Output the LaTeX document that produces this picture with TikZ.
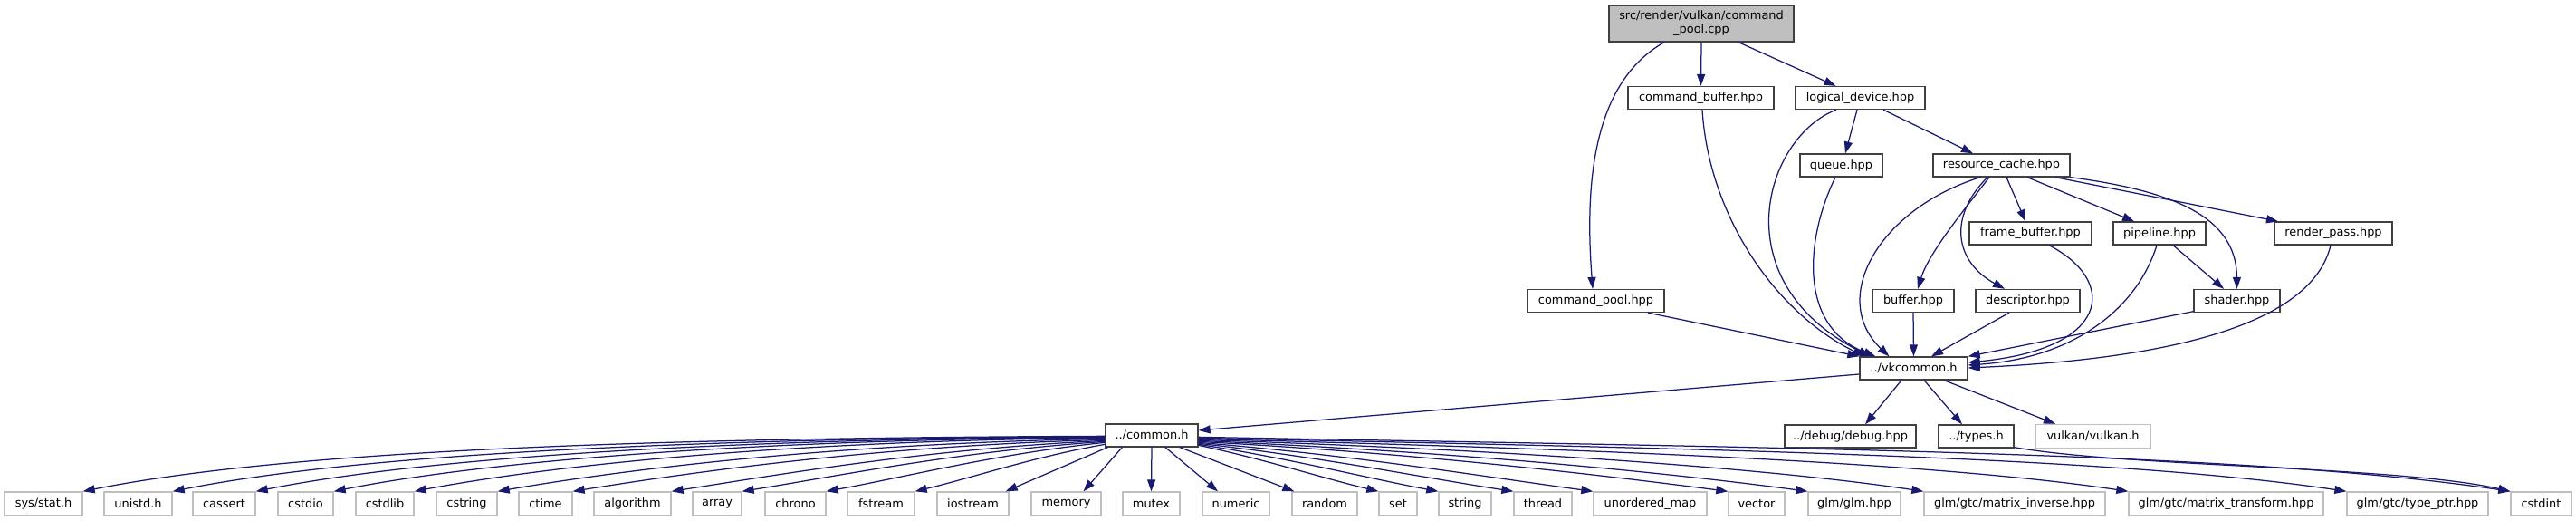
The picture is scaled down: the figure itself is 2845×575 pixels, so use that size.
\documentclass[tikz,border=0pt]{standalone}
\usepackage{fontspec}
\setmainfont{DejaVu Sans}
\usetikzlibrary{arrows.meta,calc}
\definecolor{mblue}{HTML}{191970}
\definecolor{gtf}{HTML}{404040}
\definecolor{gsf}{HTML}{BFBFBF}
\begin{document}
\begin{tikzpicture}[x=1pt,y=-1pt,
  nd/.style={draw=gtf, fill=white, line width=1.33pt, inner sep=0pt, minimum height=25pt,
    font=\fontsize{12.9}{15}\selectfont},
  ext/.style={nd, draw=gsf, minimum height=26pt},
  edge/.style={draw=mblue, line width=1.25pt, -{Triangle[length=13pt,width=9pt]}}]
\useasboundingbox[fill=white] (0,0) rectangle (2845,575);
% upper nodes
\node[nd, fill=gsf, minimum width=204pt, minimum height=40pt, align=center] (root) at (1879,26) {src/render/vulkan/command\\\_pool.cpp};
\node[nd, minimum width=161pt] (cbuf) at (1878.5,108) {command\_buffer.hpp};
\node[nd, minimum width=143pt] (ldev) at (2054.5,108) {logical\_device.hpp};
\node[nd, minimum width=91pt] (queue) at (2033.5,182.5) {queue.hpp};
\node[nd, minimum width=151pt] (rc) at (2210.5,182.5) {resource\_cache.hpp};
\node[nd, minimum width=135pt] (fb) at (2242.5,257.5) {frame\_buffer.hpp};
\node[nd, minimum width=102pt] (pipe) at (2385,257.5) {pipeline.hpp};
\node[nd, minimum width=130pt] (rp) at (2577,257.5) {render\_pass.hpp};
\node[nd, minimum width=151pt] (cpool) at (1762.5,332) {command\_pool.hpp};
\node[nd, minimum width=90pt] (buf) at (2113,332) {buffer.hpp};
\node[nd, minimum width=115pt] (desc) at (2239.5,332) {descriptor.hpp};
\node[nd, minimum width=95pt] (shader) at (2470.5,332) {shader.hpp};
\node[nd, minimum width=119pt] (vk) at (2113.5,406.5) {../vkcommon.h};
\node[nd, minimum width=102pt] (common) at (1272,480.5) {../common.h};
\node[nd, minimum width=145pt] (debug) at (2043.5,481.5) {../debug/debug.hpp};
\node[nd, minimum width=83pt] (types) at (2182.5,481.5) {../types.h};
\node[ext, minimum width=127pt] (vulkan) at (2311.5,481.5) {vulkan/vulkan.h};
% bottom row
\node[ext, minimum width=86pt] (stat) at (48,556) {sys/stat.h};
\node[ext, minimum width=75pt] (unistd) at (152.5,556) {unistd.h};
\node[ext, minimum width=69pt] (cassert) at (247.5,556) {cassert};
\node[ext, minimum width=61pt] (cstdio) at (337.5,556) {cstdio};
\node[ext, minimum width=64pt] (cstdlib) at (425,556) {cstdlib};
\node[ext, minimum width=67pt] (cstring) at (515.5,556) {cstring};
\node[ext, minimum width=59pt] (ctime) at (602.5,556) {ctime};
\node[ext, minimum width=85pt] (algorithm) at (698.5,556) {algorithm};
\node[ext, minimum width=54pt] (array) at (792,556) {array};
\node[ext, minimum width=67pt] (chrono) at (878.5,556) {chrono};
\node[ext, minimum width=74pt] (fstream) at (973,556) {fstream};
\node[ext, minimum width=79pt] (iostream) at (1074.5,556) {iostream};
\node[ext, minimum width=77pt] (memory) at (1177.5,556) {memory};
\node[ext, minimum width=63pt] (mutex) at (1271.5,556) {mutex};
\node[ext, minimum width=74pt] (numeric) at (1365,556) {numeric};
\node[ext, minimum width=72pt] (random) at (1463,556) {random};
\node[ext, minimum width=42pt] (set) at (1544,556) {set};
\node[ext, minimum width=58pt] (string) at (1618,556) {string};
\node[ext, minimum width=64pt] (thread) at (1704,556) {thread};
\node[ext, minimum width=125pt] (umap) at (1822.5,556) {unordered\_map};
\node[ext, minimum width=62pt] (vector) at (1940,556) {vector};
\node[ext, minimum width=102pt] (glmh) at (2048,556) {glm/glm.hpp};
\node[ext, minimum width=200pt] (minv) at (2225,556) {glm/gtc/matrix\_inverse.hpp};
\node[ext, minimum width=215pt] (mtrans) at (2458.5,556) {glm/gtc/matrix\_transform.hpp};
\node[ext, minimum width=156pt] (tptr) at (2670,556) {glm/gtc/type\_ptr.hpp};
\node[ext, minimum width=67pt] (cstdint) at (2806.5,556) {cstdint};
% upper edges
\draw[edge] (root.south) -- (cbuf.north);
\draw[edge] ($(root.south)+(41,0)$) -- ($(ldev.north)+(-27,0)$);
\draw[edge] ($(root.south)+(-41,0)$) .. controls +(-78,44) and +(-9,-119.5) .. ($(cpool.north)+(-3.5,0)$);
\draw[edge] ($(cbuf.south)+(1.5,0)$) .. controls +(7,115) and +(-100,-49) .. ($(vk.north west)+(6,0)$);
\draw[edge] ($(ldev.south)+(-26.5,0)$) .. controls +(-78,29.5) and +(-166,-84) .. ($(vk.north west)+(12,0)$);
\draw[edge] ($(ldev.south)+(-3.5,0)$) -- ($(queue.north)+(4.5,0)$);
\draw[edge] ($(ldev.south)+(25.5,0)$) -- ($(rc.north)+(-31.5,0)$);
\draw[edge] ($(queue.south)+(-6.5,0)$) .. controls +(-32,65) and +(-87,-34) .. ($(vk.north west)+(18,0)$);
\draw[edge] ($(rc.south)+(-23.5,0)$) .. controls +(-112,35) and +(-67,-64) .. ($(vk.north west)+(33,0)$);
\draw[edge] ($(rc.south)+(-13.5,0)$) .. controls +(-27,35) and +(12,-39.5) .. ($(buf.north)+(5,0)$);
\draw[edge] ($(rc.south)+(-15.5,0)$) .. controls +(-45,45) and +(-54,-29.5) .. ($(desc.north)+(-25.5,0)$);
\draw[edge] ($(rc.south)+(5.5,0)$) -- ($(fb.north)+(-5.5,0)$);
\draw[edge] ($(rc.south)+(28.5,0)$) -- ($(pipe.north)+(-28,0)$);
\draw[edge] ($(rc.south)+(59.5,0)$) -- ($(rp.north)+(-61,0)$);
\draw[edge] (rc.south east) .. controls +(114,15) and +(-0.5,-79.5) .. (shader.north);
\draw[edge] ($(fb.south)+(20.5,0)$) .. controls +(77,40) and +(157,-15) .. ($(vk.east)+(0,-6.5)$);
\draw[edge] ($(pipe.south)+(-3,0)$) .. controls +(-22,70) and +(117,-8) .. ($(vk.east)+(0,-3.5)$);
\draw[edge] ($(pipe.south)+(15,0)$) -- ($(shader.north)+(-14.5,0)$);
\draw[edge] ($(rp.south)+(-3,0)$) .. controls +(-19,80) and +(247,-11) .. ($(vk.east)+(0,-0.5)$);
\draw[edge] ($(shader.south west)+(0,-1.5)$) -- (vk.north east);
\draw[edge] (buf.south) -- (vk.north);
\draw[edge] ($(desc.south)+(-20.5,0)$) -- ($(vk.north)+(19.5,0)$);
\draw[edge] ($(cpool.south)+(57.5,0)$) -- (vk.north west);
\draw[edge] ($(vk.west)+(0,6.5)$) -- ($(common.east)+(0,-5.5)$);
\draw[edge] ($(vk.south)+(-13.5,0)$) -- ($(debug.north)+(16.5,0)$);
\draw[edge] ($(vk.south)+(11.5,0)$) -- ($(types.north)+(-15.5,0)$);
\draw[edge] ($(vk.south)+(33.5,0)$) -- ($(vulkan.north)+(-41.5,0)$);
\draw[edge] ($(types.south east)+(0,-1)$) .. controls +(126,22) and +(-123,-28) .. (cstdint.north west);
% fan from common.h, left side
\foreach \n/\ys/\tx in {stat/482/91, unistd/482.5/190, cassert/483/282, cstdio/483.5/368, cstdlib/484/457, cstring/485/549, ctime/486/632, algorithm/487/741, array/488/819, chrono/489/912, fstream/491/1010}{
  \pgfmathsetmacro\fdx{1221-\tx}
  \pgfmathsetmacro\fdy{\ys-468}
  \pgfmathsetmacro\fD{543-\ys}
  \pgfmathsetmacro\fw{min(1,\fdx/800)}
  \pgfmathsetmacro\fa{-(0.33+0.12*\fw)*\fdx}
  \pgfmathsetmacro\fb{(1-\fw)*\fD/3+2*\fw}
  \pgfmathsetmacro\fc{(0.33-0.13*\fw)*\fdx}
  \pgfmathsetmacro\fe{-(1-\fw)*\fD/3-0.04*\fw*\fdx}
  \draw[edge] ($(common.north west)+(0,\fdy)$) .. controls +(\fa,\fb) and +(\fc,\fe) .. (\n.north east);
}
% fan from common.h, right side
\foreach \n/\ys/\tx in {set/492/1523, string/491/1589, thread/490/1672, umap/489/1760, vector/488/1909, glmh/487/1997, minv/486/2125, mtrans/485/2351, tptr/484/2592, cstdint/483/2773}{
  \pgfmathsetmacro\fdx{\tx-1323}
  \pgfmathsetmacro\fdy{\ys-468}
  \pgfmathsetmacro\fD{543-\ys}
  \pgfmathsetmacro\fw{min(1,\fdx/800)}
  \pgfmathsetmacro\fa{(0.33+0.12*\fw)*\fdx}
  \pgfmathsetmacro\fb{(1-\fw)*\fD/3+0.2*\fw*\fD}
  \pgfmathsetmacro\fc{-(0.33-0.13*\fw)*\fdx}
  \pgfmathsetmacro\fe{-(1-\fw)*\fD/3-0.03*\fw*\fdx}
  \draw[edge] ($(common.north east)+(0,\fdy)$) .. controls +(\fa,\fb) and +(\fc,\fe) .. (\n.north west);
}
% fan from common.h, bottom
\draw[edge] ($(common.south west)+(3,0)$) -- ($(iostream.north east)+(-4,0)$);
\draw[edge] ($(common.south west)+(19,0)$) -- ($(memory.north)+(19,0)$);
\draw[edge] (common.south) -- (mutex.north);
\draw[edge] ($(common.south)+(15,0)$) -- ($(numeric.north)+(-20,0)$);
\draw[edge] ($(common.south)+(31,0)$) -- ($(random.north west)+(3,0)$);
\end{tikzpicture}
\end{document}
